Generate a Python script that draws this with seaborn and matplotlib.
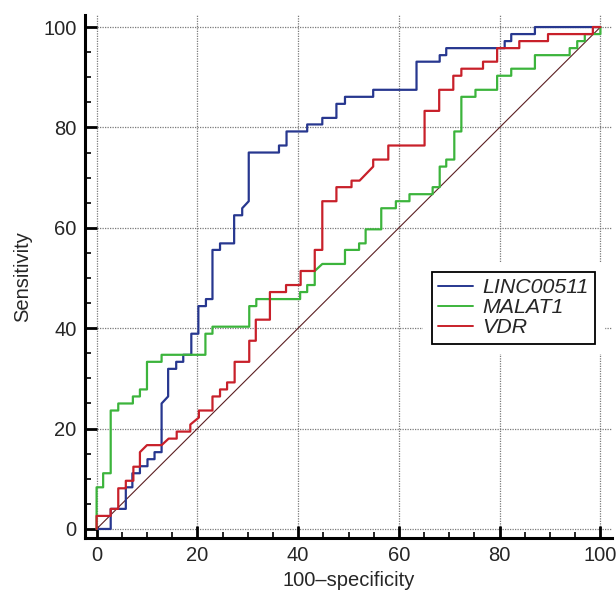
import matplotlib
matplotlib.use("Agg")
import matplotlib.pyplot as plt
import matplotlib.patheffects as pe
from matplotlib.lines import Line2D
from matplotlib.ticker import MultipleLocator
import pandas as pd
import seaborn as sns

# ROC curve vertices (x = 100-specificity, y = sensitivity)
linc_x = [0, 2.8, 2.8, 5.8, 5.8, 7.1, 7.1, 8.6, 8.6, 10.1, 10.1, 11.5, 11.5, 12.9, 12.9, 14.2,
          14.2, 15.8, 15.8, 17.2, 17.2, 18.8, 18.8, 20.2, 20.2, 21.7, 21.7, 23.0, 23.0, 24.5,
          24.5, 27.3, 27.3, 28.9, 28.9, 30.2, 30.2, 36.2, 36.2, 37.7, 37.7, 41.8, 41.8, 44.8,
          44.8, 47.6, 47.6, 49.3, 49.3, 54.9, 54.9, 63.5, 63.5, 68.1, 68.1, 69.4, 69.4, 81.0,
          81.0, 82.3, 82.3, 87.0, 87.0, 100]
linc_y = [0, 0, 4.0, 4.0, 8.3, 8.3, 11.1, 11.1, 12.5, 12.5, 13.9, 13.9, 15.3, 15.3, 25.0, 26.4,
          31.9, 31.9, 33.3, 33.3, 34.7, 34.7, 38.9, 38.9, 44.4, 44.4, 45.8, 45.8, 55.6, 55.6,
          56.9, 56.9, 62.5, 62.5, 63.9, 65.3, 75.0, 75.0, 76.4, 76.4, 79.2, 79.2, 80.6, 80.6,
          81.9, 81.9, 84.7, 84.7, 86.1, 86.1, 87.5, 87.5, 93.1, 93.1, 94.4, 94.4, 95.8, 95.8,
          97.2, 97.2, 98.6, 98.6, 100, 100]

malat_x = [0, 0, 1.3, 1.3, 2.8, 2.8, 4.3, 4.3, 7.2, 7.2, 8.6, 8.6, 10.0, 10.0, 12.9, 12.9,
           21.6, 21.6, 23.0, 23.0, 30.3, 30.3, 31.7, 31.7, 40.4, 40.4, 41.8, 41.8, 43.3, 43.3,
           44.8, 49.3, 49.3, 52.1, 52.1, 53.4, 53.4, 56.5, 56.5, 59.4, 59.4, 62.1, 62.1, 66.7,
           66.7, 68.1, 68.1, 69.4, 69.4, 71.0, 71.0, 72.4, 72.4, 75.2, 75.2, 79.5, 79.5, 82.3,
           82.3, 87.0, 87.0, 93.9, 93.9, 95.4, 95.4, 96.9, 96.9, 100, 100]
malat_y = [0, 8.3, 8.3, 11.1, 11.1, 23.6, 23.6, 25.0, 25.0, 26.4, 26.4, 27.8, 27.8, 33.3, 33.3,
           34.7, 34.7, 38.9, 38.9, 40.3, 40.3, 44.4, 44.4, 45.8, 45.8, 47.2, 47.2, 48.6, 48.6,
           51.4, 52.8, 52.8, 55.6, 55.6, 56.9, 56.9, 59.7, 59.7, 63.9, 63.9, 65.3, 65.3, 66.7,
           66.7, 68.1, 68.1, 72.2, 72.2, 73.6, 73.6, 79.2, 79.2, 86.1, 86.1, 87.5, 87.5, 90.3,
           90.3, 91.7, 91.7, 94.4, 94.4, 95.8, 95.8, 97.2, 97.2, 98.6, 98.6, 100]

vdr_x = [0, 0, 2.8, 2.8, 4.3, 4.3, 5.8, 5.8, 7.3, 7.3, 8.6, 8.6, 10.0, 12.9, 14.3, 15.9, 15.9,
         18.6, 18.6, 20.3, 20.3, 23.0, 23.0, 24.5, 24.5, 25.9, 25.9, 27.4, 27.4, 30.3, 30.3,
         31.6, 31.6, 34.4, 34.4, 37.6, 37.6, 40.5, 40.5, 43.3, 43.3, 44.8, 44.8, 47.6, 47.6,
         50.6, 50.6, 52.2, 54.9, 54.9, 57.9, 57.9, 65.1, 65.1, 68.0, 68.0, 70.8, 70.8, 72.4,
         72.4, 76.7, 76.7, 79.5, 79.5, 83.9, 83.9, 89.6, 89.6, 98.5, 98.5, 100]
vdr_y = [0, 2.6, 2.6, 4.0, 4.0, 8.1, 8.1, 9.6, 9.6, 12.4, 12.4, 15.3, 16.7, 16.7, 18.0, 18.0,
         19.4, 19.4, 20.8, 22.2, 23.6, 23.6, 26.4, 26.4, 27.8, 27.8, 29.2, 29.2, 33.3, 33.3,
         37.5, 37.5, 41.7, 41.7, 47.2, 47.2, 48.6, 48.6, 51.4, 51.4, 55.6, 55.6, 65.3, 65.3,
         68.1, 68.1, 69.4, 69.4, 72.2, 73.6, 73.6, 76.4, 76.4, 83.3, 83.3, 87.5, 87.5, 90.3,
         90.3, 91.7, 91.7, 93.1, 93.1, 95.8, 95.8, 97.2, 97.2, 98.6, 98.6, 100, 100]

ref_x = [0, 100]
ref_y = [0, 100]

names = ["LINC00511", "MALAT1", "VDR"]
colors = ["#27378f", "#3cb43c", "#c8202a"]
ticks = [0, 20, 40, 60, 80, 100]

sns.set_style("white")
plt.rcParams["font.family"] = ["Liberation Sans", "DejaVu Sans"]

fig = plt.figure(figsize=(6.16, 5.91), dpi=100)
ax = fig.add_axes([0.138, 0.0897, 0.8555, 0.8849])

# dotted grid, only over the data range
ax.hlines(ticks, 0, 102.3, colors="#7a7a7a", linestyles=(0, (1, 1)), linewidth=0.9, zorder=0)
ax.vlines(ticks, 0, 102.4, colors="#7a7a7a", linestyles=(0, (1, 1)), linewidth=0.9, zorder=0)

ax.plot(ref_x, ref_y, color="#5c1f22", linewidth=0.8, zorder=1)

curves = [(linc_x, linc_y), (malat_x, malat_y), (vdr_x, vdr_y)]
for name, col, (cx, cy) in zip(names, colors, curves):
    df = pd.DataFrame({"fpr": cx, "tpr": cy})
    sns.lineplot(data=df, x="fpr", y="tpr", sort=False, estimator=None,
                 color=col, linewidth=1.6, ax=ax, zorder=2)

ax.set_xlim(-2.3, 102.3)
ax.set_ylim(-1.8, 102.4)
ax.set_xticks(ticks)
ax.set_yticks(ticks)
ax.xaxis.set_minor_locator(MultipleLocator(5))
ax.yaxis.set_minor_locator(MultipleLocator(5))
ax.tick_params(which="major", direction="in", length=8.5, width=2, labelsize=14.5, pad=6,
               bottom=True, left=True, color="black")
ax.tick_params(which="minor", direction="in", length=4.5, width=1.2,
               bottom=True, left=True, color="black")

for side in ["top", "right"]:
    ax.spines[side].set_visible(False)
for side in ["left", "bottom"]:
    ax.spines[side].set_linewidth(2.2)
    ax.spines[side].set_color("black")

ax.set_xlabel("100\u2013specificity", fontsize=14.5, labelpad=4)
ax.set_ylabel("Sensitivity", fontsize=14.5, labelpad=8)

handles = [Line2D([], [], color=c, linewidth=1.4) for c in colors]
leg = ax.legend(handles, names, loc="upper right", bbox_to_anchor=(0.968, 0.509),
                borderaxespad=0, fancybox=False, framealpha=1, edgecolor="black",
                prop={"style": "italic", "size": 15.4}, borderpad=0.3, labelspacing=0.05,
                handlelength=1.6, handletextpad=0.45)
leg.get_frame().set_linewidth(1.3)
leg.get_frame().set_path_effects([pe.Stroke(linewidth=14, foreground="white"), pe.Normal()])
leg.set_zorder(5)

fig.savefig("out.png", dpi=100)
